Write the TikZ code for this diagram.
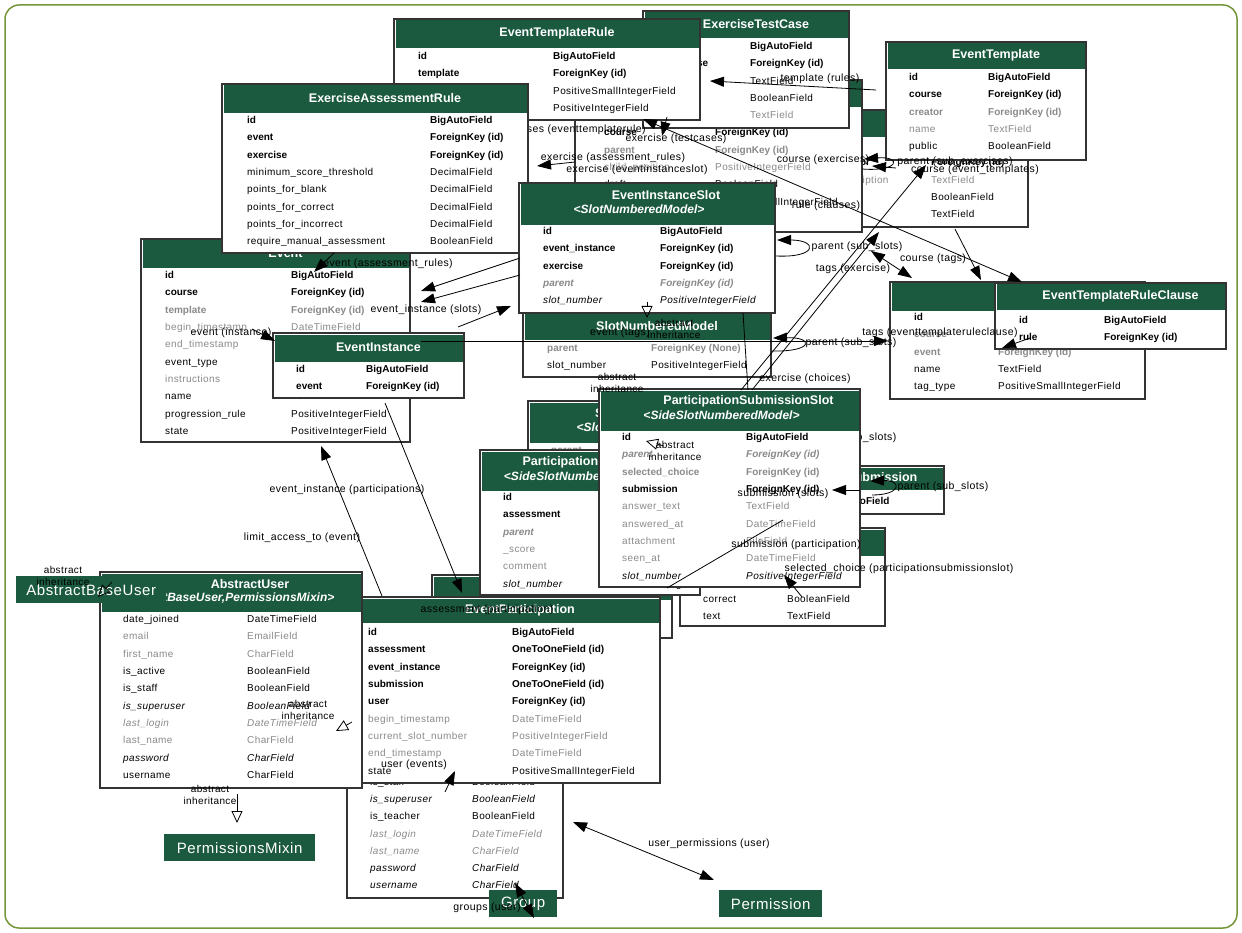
\documentclass[tikz,border=0pt]{standalone}
\usepackage{fontspec}
\setmainfont{Liberation Sans}[LetterSpace=4, BoldFeatures={LetterSpace=0}, BoldItalicFeatures={LetterSpace=0}]
\usetikzlibrary{arrows.meta}
\definecolor{hdrgreen}{HTML}{1B5A3F}
\definecolor{framegreen}{HTML}{76963A}
\definecolor{fieldgray}{HTML}{8A8A8A}
\newcommand\rowfont{\fontsize{10}{12}\selectfont}
\tikzset{
  tbody/.style={draw=black!80, line width=1.2pt, fill=white, inner sep=0, outer sep=0},
  htitle/.style={text=white, font=\fontsize{12.5}{14}\selectfont\bfseries, inner sep=0},
  hsub/.style={text=white, font=\fontsize{12}{14}\selectfont\bfseries\itshape, inner sep=0},
  fn/.style={font=\rowfont, inner sep=0, anchor=base west},
  fb/.style={font=\rowfont\bfseries, inner sep=0, anchor=base west},
  fg/.style={font=\rowfont, text=fieldgray, inner sep=0, anchor=base west},
  fbg/.style={font=\rowfont\bfseries, text=fieldgray, inner sep=0, anchor=base west},
  fi/.style={font=\rowfont\itshape, inner sep=0, anchor=base west},
  fig/.style={font=\rowfont\itshape, text=fieldgray, inner sep=0, anchor=base west},
  fbig/.style={font=\rowfont\bfseries\itshape, text=fieldgray, inner sep=0, anchor=base west},
  pkg/.style={fill=hdrgreen, text=white, font=\fontsize{15}{17}\selectfont, inner sep=0, anchor=north west},
  rel/.style={line width=0.8pt, -{Triangle[length=14pt,width=10pt]}},
  relboth/.style={line width=0.8pt, {Triangle[length=14pt,width=10pt]}-{Triangle[length=14pt,width=10pt]}},
  inh/.style={line width=0.8pt, -{Triangle[open,length=12pt,width=11pt]}},
  lbl/.style={font=\fontsize{10.5}{12}\selectfont, inner sep=0},
  inhlbl/.style={font=\fontsize{10}{11.5}\selectfont, inner sep=0, align=center},
}
% box and header of a table: id, x1, y1, x2, y2, header bottom
\newcommand\dbbox[6]{%
  \node[tbody, anchor=north west, minimum width={(#4-#2)*1pt}, minimum height={(#5-#3)*1pt}] (#1) at (#2,#3) {};
  \fill[hdrgreen] (#2+1.5,#3+1.5) rectangle (#4-1.5,#6);
}
% table with a one-line title
\newcommand\dbtable[7]{%
  \dbbox{#1}{#2}{#3}{#4}{#5}{#6}%
  \node[htitle] (#1-title) at ({(#2+#4)/2+10},{(#3+#6)/2}) {#7};
}
% table with a title and an italic base-class line
\newcommand\dbtabletwo[8]{%
  \dbbox{#1}{#2}{#3}{#4}{#5}{#6}%
  \node[htitle] (#1-title) at ({(#2+#4)/2+19},{#3+12.5}) {#7};
  \node[hsub] (#1-base) at ({(#2+#4)/2-8},{#3+26}) {#8};
}
% rows: name column x, type column x, first row centre y, list style/name/type
\newcommand\dbrows[4]{%
  \foreach \s/\a/\b [count=\i from 0] in {#4} {
    \node[\s] at (#1,{#3+\i*17.3+3.6}) {\a};
    \node[\s] at (#2,{#3+\i*17.3+3.6}) {\b};
  }%
}
\begin{document}
\begin{tikzpicture}[x=1pt,y=-1pt]
\useasboundingbox (0,0) rectangle (1242,933);
\draw[framegreen, line width=1.5pt, fill=white, rounded corners=14pt] (5,5) rectangle (1237,928);

% ---- courses and exercises ----
\dbtable{course}{812}{110}{1028}{227}{137}{Course}
\dbrows{836}{931}{145}{fb/id/BigAutoField, fb/creator/ForeignKey (id), fg/description/TextField, fn/open/BooleanField, fn/name/TextField}
\dbtable{exercise}{575}{80}{862}{232}{107}{Exercise}
\dbrows{604}{715}{115}{fb/id/BigAutoField, fb/course/ForeignKey (id), fbg/parent/ForeignKey (id), fg/child\_position/PositiveIntegerField, fn/draft/BooleanField, fn/exercise\_type/PositiveSmallIntegerField, fg/initial\_code/TextField}
\dbtable{testcase}{643}{11}{849}{128}{38}{ExerciseTestCase}
\dbrows{668}{750}{46}{fb/id/BigAutoField, fb/exercise/ForeignKey (id), fn/code/TextField, fn/hidden/BooleanField, fg/label/TextField}
\dbtable{etrule}{394}{19}{700}{120}{48}{EventTemplateRule}
\dbrows{418}{553}{56}{fb/id/BigAutoField, fb/template/ForeignKey (id), fn/amount/PositiveSmallIntegerField, fn/weight/PositiveIntegerField}
\dbtable{etemplate}{886}{42}{1086}{160}{69}{EventTemplate}
\dbrows{909}{988}{77}{fb/id/BigAutoField, fb/course/ForeignKey (id), fbg/creator/ForeignKey (id), fg/name/TextField, fn/public/BooleanField}

% ---- events ----
\dbtable{event}{141}{239}{410}{442}{268}{Event}
\dbrows{165}{291}{275}{fb/id/BigAutoField, fb/course/ForeignKey (id), fbg/template/ForeignKey (id), fg/begin\_timestamp/DateTimeField, fg/end\_timestamp/DateTimeField, fn/event\_type/PositiveSmallIntegerField, fg/instructions/TextField, fn/name/TextField, fn/progression\_rule/PositiveIntegerField, fn/state/PositiveIntegerField}
\node[lbl] (l0) at (571,130) {exercises (eventtemplaterule)};
\dbtable{earule}{222}{84}{528}{253}{113}{ExerciseAssessmentRule}
\dbrows{247}{430}{120}{fb/id/BigAutoField, fb/event/ForeignKey (id), fb/exercise/ForeignKey (id), fn/minimum\_score\_threshold/DecimalField, fn/points\_for\_blank/DecimalField, fn/points\_for\_correct/DecimalField, fn/points\_for\_incorrect/DecimalField, fn/require\_manual\_assessment/BooleanField}
\dbtable{einstance}{273}{333}{464}{398}{362}{EventInstance}
\dbrows{296}{366}{369}{fb/id/BigAutoField, fb/event/ForeignKey (id)}
\dbtable{slotnum}{523}{312}{771}{377}{340}{SlotNumberedModel}
\dbrows{547}{651}{348}{fbg/parent/ForeignKey (None), fn/slot\_number/PositiveIntegerField}
\dbtabletwo{eislot}{519}{183}{775}{313}{225}{EventInstanceSlot}{<SlotNumberedModel>}
\dbrows{543}{660}{231}{fb/id/BigAutoField, fb/event\_instance/ForeignKey (id), fb/exercise/ForeignKey (id), fbig/parent/ForeignKey (id), fi/slot\_number/PositiveIntegerField}
\dbtable{tag}{890}{282}{1145}{399}{311}{Tag}
\dbrows{914}{998}{317}{fb/id/BigAutoField, fbg/course/ForeignKey (id), fbg/event/ForeignKey (id), fn/name/TextField, fn/tag\_type/PositiveSmallIntegerField}
\dbtable{clause}{995}{283}{1226}{349}{310}{EventTemplateRuleClause}
\dbrows{1019}{1104}{320}{fb/id/BigAutoField, fb/rule/ForeignKey (id)}

% ---- participations ----
\dbtable{choice}{680}{528}{885}{626}{556}{ExerciseChoice}
\dbrows{703}{787}{564}{fb/id/BigAutoField, fb/exercise/ForeignKey (id), fn/correct/BooleanField, fn/text/TextField}
\dbtable{psub}{724}{466}{944}{514}{490}{ParticipationSubmission}
\dbrows{750}{827}{501}{fb/id/BigAutoField}
\dbtabletwo{sideslot}{528}{401}{772}{490}{443}{SideSlotNumberedModel}{<SlotNumberedModel>}
\dbrows{551}{660}{450}{fbg/parent/ForeignKey (None), fn/slot\_number/PositiveIntegerField}
\dbtable{passess}{432}{575}{672}{638}{600}{ParticipationAssessment}
\dbrows{455}{560}{607}{fb/id/BigAutoField}
\dbtabletwo{paslot}{480}{450}{700}{595}{491}{ParticipationAssessmentSlot}{<SideSlotNumberedModel>}
\dbrows{503}{620}{497}{fb/id/BigAutoField, fb/assessment/ForeignKey (id), fbig/parent/ForeignKey (id), fg/\_score/DecimalField, fg/comment/TextField, fi/slot\_number/PositiveIntegerField}
\node[lbl] (l28) at (851,438) {parent (sub\_slots)};
\dbtabletwo{psslot}{599}{389}{860}{587}{431}{ParticipationSubmissionSlot}{<SideSlotNumberedModel>}
\dbrows{622}{746}{437}{fb/id/BigAutoField, fbig/parent/ForeignKey (id), fbg/selected\_choice/ForeignKey (id), fb/submission/ForeignKey (id), fg/answer\_text/TextField, fg/answered\_at/DateTimeField, fg/attachment/FileField, fg/seen\_at/DateTimeField, fi/slot\_number/PositiveIntegerField}

% ---- users ----
\dbtabletwo{user}{347}{600}{563}{898}{680}{User}{<AbstractUser>}
\dbrows{370}{472}{695}{fb/id/BigAutoField, fg/date\_joined/DateTimeField, fg/email/EmailField, fg/first\_name/CharField, fn/is\_active/BooleanField, fn/is\_staff/BooleanField, fi/is\_superuser/BooleanField, fn/is\_teacher/BooleanField, fig/last\_login/DateTimeField, fig/last\_name/CharField, fi/password/CharField, fi/username/CharField}
\dbtable{eparticip}{360}{597}{660}{783}{623}{EventParticipation}
\dbrows{368}{512}{632}{fb/id/BigAutoField, fb/assessment/OneToOneField (id), fb/event\_instance/ForeignKey (id), fb/submission/OneToOneField (id), fb/user/ForeignKey (id), fg/begin\_timestamp/DateTimeField, fg/current\_slot\_number/PositiveIntegerField, fg/end\_timestamp/DateTimeField, fn/state/PositiveSmallIntegerField}
\dbtabletwo{absuser}{100}{572}{362}{788}{612}{AbstractUser}{<AbstractBaseUser,PermissionsMixin>}
\dbrows{123}{247}{619}{fn/date\_joined/DateTimeField, fg/email/EmailField, fg/first\_name/CharField, fn/is\_active/BooleanField, fn/is\_staff/BooleanField, fi/is\_superuser/BooleanField, fig/last\_login/DateTimeField, fg/last\_name/CharField, fi/password/CharField, fn/username/CharField}

\node[pkg, minimum width=150pt, minimum height=27pt] (absbase) at (16,576) {AbstractBaseUser};
\node[pkg, minimum width=151pt, minimum height=27pt] (permmixin) at (164,834) {PermissionsMixin};
\node[pkg, minimum width=68pt, minimum height=27pt] (group) at (489,890) {Group};
\node[pkg, minimum width=103pt, minimum height=27pt] (permission) at (719,890) {Permission};

% ---- connectors ----
\coordinate (c1a) at (876,90);  \coordinate (c1b) at (710,81);
\draw[rel] (c1a) -- (c1b);
\node[lbl] (l1) at (820,79) {template (rules)};
\coordinate (c2a) at (1022,282); \coordinate (c2b) at (643,119);
\draw[relboth] (c2a) -- (c2b);
\node[lbl] (l25) at (826,206) {rule (clauses)};
\coordinate (c2c) at (667,117); \coordinate (c2d) at (662,136);
\draw[rel] (c2c) -- (c2d);
\node[lbl] (l2) at (676,139) {exercise (testcases)};
\coordinate (c3a) at (575,162); \coordinate (c3b) at (537,166);
\draw[rel] (c3a) -- (c3b);
\node[lbl] (l3) at (613,158) {exercise (assessment\_rules)};
\node[lbl] (l3b) at (637,170) {exercise (eventinstanceslot)};
% exercise self loop and course link
\coordinate (x1a) at (862,169); \coordinate (x1b) at (864,159);
\draw[rel] (x1a) .. controls (900,172) and (902,156) .. (x1b);
\coordinate (x2a) at (896,168); \coordinate (x2b) at (872,166);
\draw[rel] (x2a) -- (x2b);
\node[lbl] (l26) at (823,160) {course (exercises)};
\node[lbl] (l29) at (955,162) {parent (sub\_exercises)};
\node[lbl] (l27) at (975,170) {course (event\_templates)};
\coordinate (c4a) at (334,253); \coordinate (c4b) at (314,272);
\draw[rel] (c4a) -- (c4b);
\node[lbl] (l4) at (388,264) {event (assessment\_rules)};
\coordinate (c5a) at (520,258); \coordinate (c5b) at (421,291);
\coordinate (c6a) at (520,275); \coordinate (c6b) at (421,302);
\draw[rel] (c5a) -- (c5b);
\draw[rel] (c6a) -- (c6b);
\coordinate (c7a) at (458,327); \coordinate (c7b) at (511,306);
\draw[rel] (c7a) -- (c7b);
\node[lbl] (l7) at (426,310) {event\_instance (slots)};
\coordinate (c8a) at (252,329); \coordinate (c8b) at (275,341);
\draw[rel] (c8a) -- (c8b);
\node[lbl] (l8) at (231,333) {event (instance)};
\coordinate (c9a) at (421,341); \coordinate (c9b) at (888,341);
\draw[rel] (c9a) -- (c9b);
\node[lbl] (l9) at (620,333) {event (tags)};
\coordinate (c9c) at (1030,338); \coordinate (c9d) at (1002,348);
\draw[rel] (c9c) -- (c9d);
\node[lbl] (l9b) at (940,333) {tags (eventtemplateruleclause)};
% slot self loops
\coordinate (s1a) at (776,256); \coordinate (s1b) at (777,240);
\draw[rel] (s1a) .. controls (818,258) and (818,240) .. (s1b);
\node[lbl] (l20) at (857,247) {parent (sub\_slots)};
\coordinate (s2a) at (772,351); \coordinate (s2b) at (773,338);
\draw[rel] (s2a) .. controls (814,352) and (814,337) .. (s2b);
\node[lbl] (l21) at (851,343) {parent (sub\_slots)};
\coordinate (s3a) at (872,495); \coordinate (s3b) at (870,481);
\draw[rel] (s3a) .. controls (902,495) and (902,480) .. (s3b);
\node[lbl] (l22) at (943,487) {parent (sub\_slots)};
% tags
\coordinate (t1a) at (871,251); \coordinate (t1b) at (912,278);
\draw[relboth] (t1a) -- (t1b);
\node[lbl] (l23) at (853,269) {tags (exercise)};
\coordinate (t2a) at (955,229); \coordinate (t2b) at (981,280);
\draw[rel] (t2a) -- (t2b);
\node[lbl] (l24) at (933,259) {course (tags)};
% long links through the middle
\coordinate (d1a) at (741,390); \coordinate (d1b) at (926,165);
\draw[rel] (d1a) -- (d1b);
\coordinate (d2a) at (752,390); \coordinate (d2b) at (879,232);
\draw[rel] (d2a) -- (d2b);
\coordinate (d3a) at (743,313); \coordinate (d3b) at (748,390);
\draw[line width=0.8pt] (d3a) -- (d3b);
\node[lbl] (l19) at (805,379) {exercise (choices)};
% participations
\coordinate (c10a) at (382,596); \coordinate (c10b) at (321,446);
\draw[rel] (c10a) -- (c10b);
\node[lbl] (l10) at (302,538) {limit\_access\_to (event)};
\coordinate (c11a) at (385,403); \coordinate (c11b) at (462,593);
\draw[rel] (c11a) -- (c11b);
\node[lbl] (l11) at (347,490) {event\_instance (participations)};
\node[lbl] (l15) at (487,610) {assessment (participation)};
\coordinate (c16a) at (667,588); \coordinate (c16b) at (783,520);
\draw[line width=0.8pt] (c16a) -- (c16b);
\node[lbl] (l16) at (796,545) {submission (participation)};
\coordinate (c17a) at (860,490); \coordinate (c17b) at (832,490);
\draw[rel] (c17a) -- (c17b);
\node[lbl] (l17) at (783,494) {submission (slots)};
\coordinate (c18a) at (802,597); \coordinate (c18b) at (784,575);
\draw[rel] (c18a) -- (c18b);
\node[lbl] (l18) at (899,569) {selected\_choice (participationsubmissionslot)};
% users
\coordinate (c12a) at (445,792); \coordinate (c12b) at (455,771);
\draw[rel] (c12a) -- (c12b);
\node[lbl] (l12) at (414,765) {user (events)};
\coordinate (c13a) at (573,822); \coordinate (c13b) at (714,880);
\draw[relboth] (c13a) -- (c13b);
\node[lbl] (l13) at (709,844) {user\_permissions (user)};
\coordinate (c14a) at (515,883); \coordinate (c14b) at (534,918);
\draw[relboth] (c14a) -- (c14b);
\node[lbl] (l14) at (487,908) {groups (user)};

% inheritance
\coordinate (i1a) at (237,794); \coordinate (i1b) at (237,823);
\draw[inh] (i1a) -- (i1b);
\node[inhlbl] (il1) at (210,795) {abstract\\inheritance};
\coordinate (i2a) at (112,582); \coordinate (i2b) at (98,597);
\draw[inh] (i2a) -- (i2b);
\node[inhlbl] (il2) at (63,576) {abstract\\inheritance};
\coordinate (i3a) at (352,722); \coordinate (i3b) at (336,731);
\draw[inh] (i3a) -- (i3b);
\node[inhlbl] (il3) at (308,710) {abstract\\inheritance};
\coordinate (i4a) at (664,446); \coordinate (i4b) at (646,441);
\draw[inh] (i4a) -- (i4b);
\node[inhlbl] (il4) at (675,451) {abstract\\inheritance};
\node[inhlbl] (il5) at (617,383) {abstract\\inheritance};
\coordinate (i6a) at (647,302); \coordinate (i6b) at (647,318);
\draw[inh] (i6a) -- (i6b);
\node[inhlbl] (il6) at (674,329) {abstract\\inheritance};
\end{tikzpicture}
\end{document}
